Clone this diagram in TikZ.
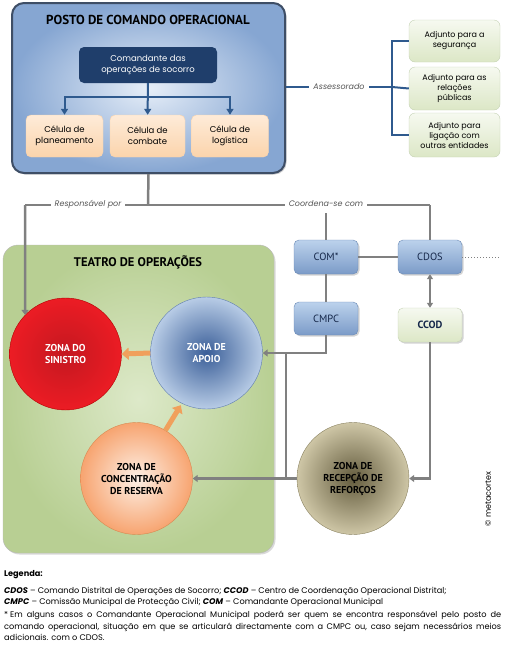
\documentclass[tikz,border=0pt]{standalone}
\usepackage{fontspec}
\setmainfont{Poppins}
\newfontfamily\titlefont{PT Sans}
\usetikzlibrary{arrows.meta,shadows}

\definecolor{postoout}{HTML}{86A6D2}
\definecolor{postoin}{HTML}{E6EEF8}
\definecolor{postoline}{HTML}{3E4E66}
\definecolor{navy}{HTML}{1F3E6B}
\definecolor{bluelink}{HTML}{2F5A8E}
\definecolor{celltop}{HTML}{FEEBD8}
\definecolor{cellbot}{HTML}{FBD4AC}
\definecolor{adjtop}{HTML}{F6F9F0}
\definecolor{adjbot}{HTML}{DCE7C6}
\definecolor{adjline}{HTML}{C4D2B4}
\definecolor{orgtop}{HTML}{BCD2EC}
\definecolor{orgbot}{HTML}{7B9BC8}
\definecolor{orgline}{HTML}{6A8AB6}
\definecolor{orgtext}{HTML}{16284A}
\definecolor{linkgray}{HTML}{808080}
\definecolor{labelgray}{HTML}{555555}
\definecolor{teatroin}{HTML}{DDE9C9}
\definecolor{teatroout}{HTML}{B8CF93}
\definecolor{bigorange}{HTML}{F0A05C}

\begin{document}
\begin{tikzpicture}[x=1pt,y=1pt]
\tikzstyle{every node}+=[inner sep=0pt]
\tikzstyle{cell}=[rounded corners=5pt, top color=celltop, bottom color=cellbot, draw=cellbot, minimum width=77pt, minimum height=42pt, align=center, font=\fontsize{8.5}{11}\selectfont]
\tikzstyle{adjunto}=[rounded corners=6pt, top color=adjtop, bottom color=adjbot, draw=adjline, minimum width=91pt, align=center, font=\fontsize{8}{10}\selectfont]
\tikzstyle{orgbox}=[rounded corners=5pt, top color=orgtop, bottom color=orgbot, draw=orgline, minimum width=64pt, minimum height=34pt, text=orgtext, font=\titlefont\fontsize{10.5}{12}\selectfont, drop shadow={shadow xshift=1.5pt, shadow yshift=-1.5pt, opacity=0.35}]
\tikzstyle{zona}=[circle, minimum size=112pt, align=center, font=\titlefont\bfseries\fontsize{10}{12}\selectfont]
\tikzstyle{blueline}=[draw=bluelink, line width=2pt, -{Triangle[width=7pt,length=6pt]}]
\tikzstyle{link}=[draw=linkgray, line width=2.5pt]
\tikzstyle{tip}=[-{Triangle[width=7pt,length=5pt]}]
\tikzstyle{linklabel}=[fill=white, inner xsep=4pt, inner ysep=2pt, text=labelgray, font=\itshape\fontsize{8}{9}\selectfont]
\tikzstyle{bigarrow}=[draw=bigorange, line width=5pt, -{Triangle[width=12pt,length=7pt]}]
\tikzstyle{legend}=[anchor=west, font=\fontsize{8.2}{11}\selectfont]

\useasboundingbox (0,0) rectangle (507,-646);

\node[draw=postoline, line width=2pt, rounded corners=12pt, inner color=postoin, outer color=postoout, minimum width=273pt, minimum height=170pt, drop shadow={shadow xshift=1.5pt, shadow yshift=-1.5pt, opacity=0.4}] (posto) at (148.5,-88) {};
\node[font=\titlefont\bfseries\fontsize{13}{14}\selectfont] (postotitle) at (148,-20) {POSTO DE COMANDO OPERACIONAL};
\node[fill=navy, rounded corners=5pt, minimum width=138pt, minimum height=36pt, text=white, align=center, font=\fontsize{8.5}{11}\selectfont] (cmd) at (148,-65) {Comandante das\\operações de socorro};
\node[cell] (plan) at (64.5,-136) {Célula de\\planeamento};
\node[cell, minimum width=75pt] (comb) at (147.5,-136) {Célula de\\combate};
\node[cell] (logi) at (230,-136) {Célula de\\logística};
\coordinate (branch) at (148,-97);
\draw[blueline] (cmd) -- (comb);
\draw[blueline] (branch) -| (plan);
\draw[blueline] (branch) -| (logi);

\node[adjunto, minimum height=42pt] (seg) at (454.5,-41) {Adjunto para a\\segurança};
\node[adjunto, minimum height=43pt] (rel) at (454.5,-88.5) {Adjunto para as\\relações\\públicas};
\node[adjunto, minimum height=44pt] (lig) at (454.5,-135) {Adjunto para\\ligação com\\outras entidades};
\coordinate (bracket) at (392,-87);
\draw[blueline, -] (posto.east |- bracket) -- node[linklabel] (assess) {Assessorado} (bracket);
\draw[blueline, -] (seg.west) -| (bracket) |- (lig.west);
\draw[blueline, -] (bracket) -- (rel.west);

\node[draw=gray!55, rounded corners=15pt, inner color=teatroin, outer color=teatroout, minimum width=271pt, minimum height=308pt, drop shadow={shadow xshift=1.5pt, shadow yshift=-1.5pt, opacity=0.3}] (teatro) at (138.5,-399) {};
\node[font=\titlefont\bfseries\fontsize{12.5}{14}\selectfont] (teatrotitle) at (138,-262) {TEATRO DE OPERAÇÕES};

\node[zona, draw=red!70!black, inner color={rgb,255:red,196;green,24;blue,32}, outer color={rgb,255:red,236;green,28;blue,36}, text=white] (sinistro) at (65.5,-354) {ZONA DO\\SINISTRO};
\node[zona, draw={rgb,255:red,96;green,126;blue,176}, inner color={rgb,255:red,58;green,94;blue,152}, outer color={rgb,255:red,184;green,204;blue,230}, text=white] (apoio) at (206.5,-353) {ZONA DE\\APOIO};
\node[zona, draw={rgb,255:red,216;green,136;blue,80}, inner color={rgb,255:red,253;green,240;blue,230}, outer color={rgb,255:red,247;green,164;blue,112}] (concentracao) at (136.5,-478.5) {ZONA DE\\CONCENTRAÇÃO\\DE RESERVA};
\node[zona, draw={rgb,255:red,138;green,130;blue,96}, inner color={rgb,255:red,100;green,92;blue,62}, outer color={rgb,255:red,206;green,198;blue,166}] (recepcao) at (353,-478.5) {ZONA DE\\RECEPÇÃO DE\\REFORÇOS};

\node[orgbox] (com) at (326,-257) {COM*};
\node[orgbox] (cdos) at (430,-257) {CDOS};
\node[orgbox, minimum height=33pt] (cmpc) at (326,-318.5) {CMPC};
\node[orgbox, top color=adjtop, bottom color=adjbot, draw=adjline, font=\titlefont\bfseries\fontsize{10.5}{12}\selectfont] (ccod) at (430,-325) {CCOD};

\coordinate (leftend) at (25,-205);
\coordinate (top) at (148,-205);
\coordinate (rightend) at (430,-205);
\coordinate (cdosout) at (500,-257);
\coordinate (cmpcturn) at (326,-353);
\coordinate (split) at (286,-353);
\coordinate (splitlow) at (286,-478.5);
\coordinate (ccodturn) at (430,-478.5);
\draw[link] (posto.south) -- (top);
\draw[link] (rightend) -- (leftend);
\draw[link, tip] (leftend) -- (sinistro.136);
\draw[link] (rightend) -- (cdos);
\node[linklabel] (resp) at (88,-204) {Responsável por};
\node[linklabel] (coord) at (326,-204) {Coordena-se com};
\draw[link, shorten <=4pt] (coord) -- (com);
\draw[link] (com) -- (cdos);
\draw[link, line width=1pt, dotted] (cdos) -- (cdosout);
\draw[link] (com) -- (cmpc);
\draw[link, line width=1.5pt, {Triangle[width=6pt,length=5pt]}-{Triangle[width=6pt,length=5pt]}] (cdos) -- (ccod);
\draw[link, tip] (cmpc) -- (cmpcturn) -- (apoio);
\draw[link] (split) -- (splitlow);
\draw[link, tip] (recepcao) -- (concentracao);
\draw[link, tip] (ccod) -- (ccodturn) -- (recepcao);

\draw[bigarrow] (apoio.west) -- (sinistro.east);
\draw[bigarrow, shorten >=2pt] (concentracao.59) -- (apoio.244);

\node[rotate=90, font=\fontsize{8}{9}\selectfont] (copyr) at (488,-499) {© metacortex};

\node[legend, font=\bfseries\fontsize{8.2}{11}\selectfont] (legtitle) at (4,-575) {Legenda:};
\node[legend] (leg1) at (4,-591) {\textbf{\textit{CDOS}} – Comando Distrital de Operações de Socorro; \textbf{\textit{CCOD}} – Centro de Coordenação Operacional Distrital;};
\node[legend] (leg2) at (4,-602) {\textbf{\textit{CMPC}} – Comissão Municipal de Protecção Civil; \textbf{\textit{COM}} – Comandante Operacional Municipal};
\node[anchor=north west, text width=497pt, align=justify, font=\fontsize{8.2}{11.5}\selectfont] (leg3) at (4,-611) {\hangindent=6pt\hangafter=1\makebox[6pt][l]{*}Em alguns casos o Comandante Operacional Municipal poderá ser quem se encontra responsável pelo posto de\linebreak comando operacional, situação em que se articulará directamente com a CMPC ou, caso sejam necessários meios\linebreak adicionais. com o CDOS.};
\end{tikzpicture}
\end{document}
